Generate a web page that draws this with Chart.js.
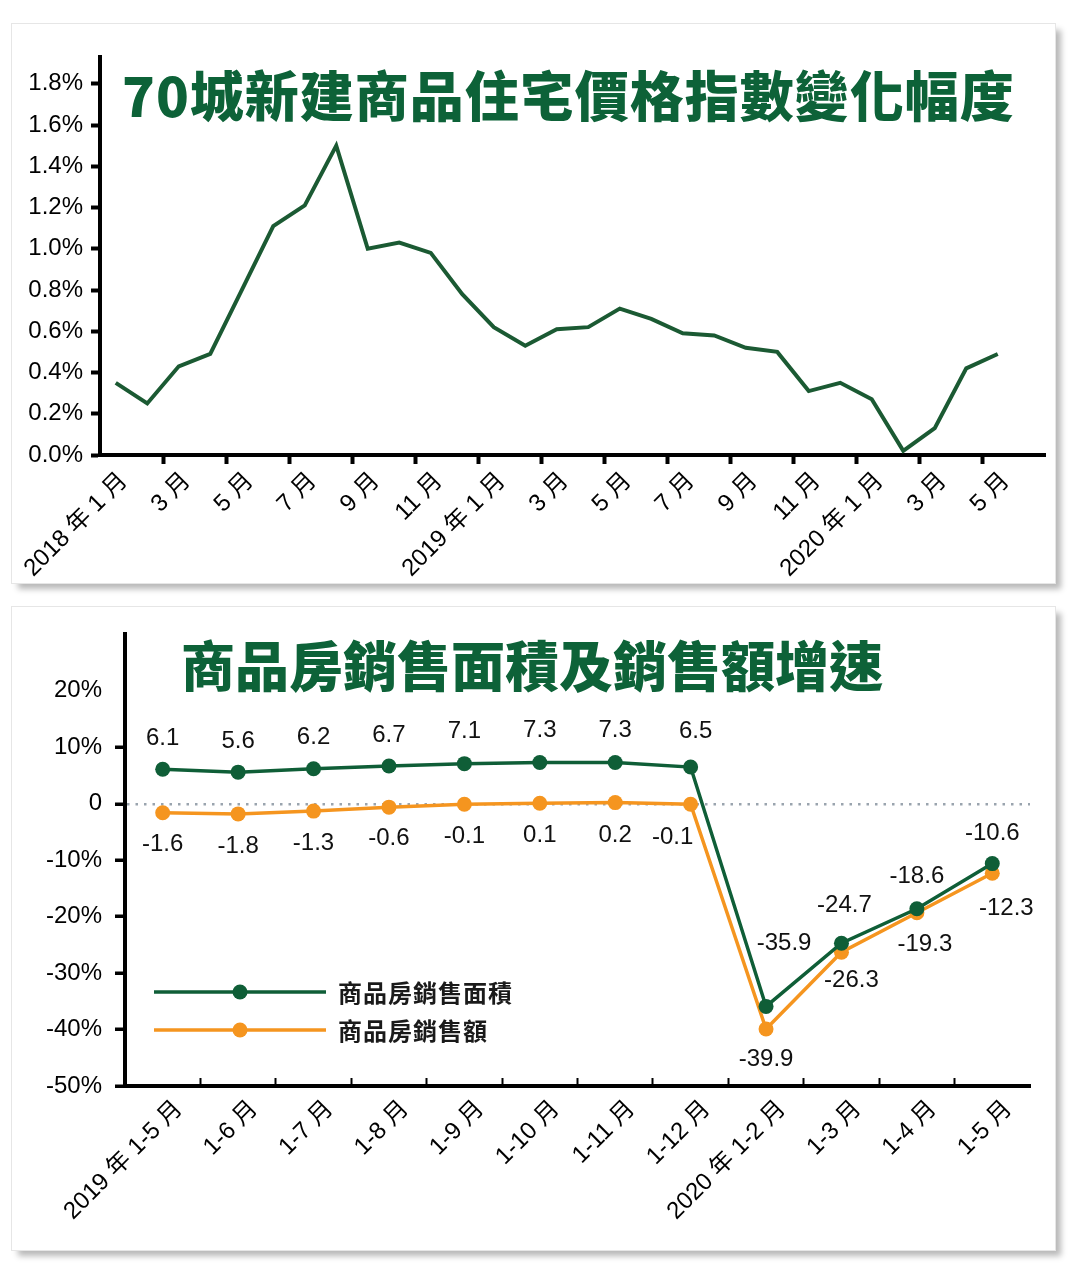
<!DOCTYPE html>
<html>
<head>
<meta charset="utf-8">
<script src="https://cdn.jsdelivr.net/npm/chart.js@4.4.0/dist/chart.umd.min.js"></script>
<style>
  body { margin: 0; background: #fff; width: 1080px; height: 1274px; position: relative; overflow: hidden; }
  .card { position: absolute; left: 12px; width: 1043px; background: #fff;
          box-shadow: 0 0 0 1px #e6e6e6, 6px 6px 6px rgba(0,0,0,0.28); }
  #card1 { top: 24px; height: 559px; }
  #card2 { top: 607px; height: 643px; }
  .card canvas { position: absolute; left: 0; top: 0; }
</style>
</head>
<body>
<div class="card" id="card1"><canvas id="priceChart" width="1043" height="559"></canvas></div>
<div class="card" id="card2"><canvas id="salesChart" width="1043" height="643"></canvas></div>

<script>
// ---- top chart: 70-city new home price index, month-on-month change (%)
const priceMonths = [
  '2018年1月', '2月', '3月', '4月', '5月', '6月', '7月', '8月', '9月', '10月', '11月', '12月',
  '2019年1月', '2月', '3月', '4月', '5月', '6月', '7月', '8月', '9月', '10月', '11月', '12月',
  '2020年1月', '2月', '3月', '4月', '5月', '6月'
];
const priceChange = [
  0.35, 0.25, 0.43, 0.49, 0.80, 1.11, 1.21, 1.50, 1.00, 1.03, 0.98, 0.78,
  0.62, 0.53, 0.61, 0.62, 0.71, 0.66, 0.59, 0.58, 0.52, 0.50, 0.31, 0.35,
  0.27, 0.02, 0.13, 0.42, 0.49, null
];
const priceTicks = [0, 0.2, 0.4, 0.6, 0.8, 1.0, 1.2, 1.4, 1.6, 1.8];

// ---- bottom chart: sales area / sales value growth (%)
const salesPeriods = ['2019年1-5月', '1-6月', '1-7月', '1-8月', '1-9月', '1-10月', '1-11月', '1-12月',
                      '2020年1-2月', '1-3月', '1-4月', '1-5月'];
const salesArea  = [6.1, 5.6, 6.2, 6.7, 7.1, 7.3, 7.3, 6.5, -35.9, -24.7, -18.6, -10.6];
const salesValue = [-1.6, -1.8, -1.3, -0.6, -0.1, 0.1, 0.2, -0.1, -39.9, -26.3, -19.3, -12.3];
const salesTicks = [-50, -40, -30, -20, -10, 0, 10, 20];

// where each value label sits relative to its point
const labelOffsets = [
  [[0,-31],[0,-31],[0,-31],[0,-31],[0,-32],[0,-32],[0,-32],[5,-36],[18,-63],[3,-38],[0,-32],[0,-30]],
  [[0,32],[0,32],[0,32],[0,31],[0,32],[0,32],[0,33],[-18,33],[0,30],[10,28],[8,32],[14,35]]
];

const GREEN = '#0f5e37';
const LINE_GREEN = '#1b5a33';
const ORANGE = '#f5951f';
const TICK_FONT = { family: "'Liberation Sans', 'Noto Sans CJK TC', sans-serif", size: 24 };

// Latin/CJK spacing as in the original axis labels
const spaced = s => s.replace(/(\d)([年月])/g, '$1 $2').replace(/年(\d)/g, '年 $1');

const cornerTitle = {
  id: 'cornerTitle',
  afterDraw(chart, args, opts) {
    const { ctx, chartArea } = chart;
    ctx.save();
    ctx.font = "900 54px 'Noto Sans CJK TC', sans-serif";
    ctx.letterSpacing = opts.spacing + 'px';
    ctx.fillStyle = '#0d6238';
    ctx.textBaseline = 'middle';
    ctx.fillText(opts.text, chartArea.left + opts.dx, chartArea.top + opts.dy);
    ctx.restore();
  }
};

const pointLabels = {
  id: 'pointLabels',
  afterDatasetsDraw(chart) {
    const ctx = chart.ctx;
    ctx.save();
    ctx.font = "24px 'Liberation Sans', sans-serif";
    ctx.fillStyle = '#111';
    ctx.textAlign = 'center';
    ctx.textBaseline = 'middle';
    chart.data.datasets.forEach((ds, di) => {
      chart.getDatasetMeta(di).data.forEach((pt, i) => {
        const off = labelOffsets[di][i];
        ctx.fillText(ds.data[i].toFixed(1), pt.x + off[0], pt.y + off[1]);
      });
    });
    ctx.restore();
  }
};

const insideLegend = {
  id: 'insideLegend',
  afterDraw(chart) {
    const { ctx, chartArea } = chart;
    const x0 = chartArea.left + 29, y0 = chartArea.bottom - 94;
    chart.data.datasets.forEach((ds, i) => {
      const y = y0 + i * 38;
      ctx.save();
      ctx.strokeStyle = ds.borderColor;
      ctx.lineWidth = 3.5;
      ctx.beginPath();
      ctx.moveTo(x0, y);
      ctx.lineTo(x0 + 172, y);
      ctx.stroke();
      ctx.fillStyle = ds.borderColor;
      ctx.beginPath();
      ctx.arc(x0 + 86, y, 7.5, 0, Math.PI * 2);
      ctx.fill();
      ctx.fillStyle = '#1a1a1a';
      ctx.font = "bold 24px 'Noto Sans CJK TC', sans-serif";
      ctx.letterSpacing = '1px';
      ctx.textBaseline = 'middle';
      ctx.fillText(ds.label, x0 + 184, y + 1);
      ctx.restore();
    });
  }
};

// top chart
new Chart(document.getElementById('priceChart'), {
  type: 'line',
  data: {
    labels: priceMonths,
    datasets: [{
      label: '70城新建商品住宅價格指數變化幅度',
      data: priceChange,
      borderColor: LINE_GREEN,
      borderWidth: 4,
      pointRadius: 0,
      fill: false,
      tension: 0
    }]
  },
  plugins: [cornerTitle],
  options: {
    responsive: false,
    animation: false,
    devicePixelRatio: 1,
    layout: { padding: { top: 33, right: 10, left: 0, bottom: 0 } },
    plugins: {
      legend: { display: false },
      tooltip: { enabled: false },
      cornerTitle: { text: '70城新建商品住宅價格指數變化幅度', dx: 22, dy: 39, spacing: 1 }
    },
    scales: {
      x: {
        offset: true,
        afterFit: s => { s.height = 128; },
        grid: {
          offset: true,
          drawOnChartArea: false,
          tickLength: 9,
          tickWidth: 4,
          tickColor: c => (c.tick && c.index > 0 && c.index % 2 === 0) ? '#000' : 'rgba(0,0,0,0)'
        },
        border: { color: '#000', width: 4 },
        ticks: {
          autoSkip: false,
          minRotation: 45,
          maxRotation: 45,
          padding: 3,
          labelOffset: 8,
          color: '#000',
          font: TICK_FONT,
          callback: (v, i) => i % 2 === 0 ? spaced(priceMonths[i]) : ''
        }
      },
      y: {
        min: 0,
        max: 1.93,
        afterFit: s => { s.width = 88; },
        afterBuildTicks: s => { s.ticks = priceTicks.map(v => ({ value: v })); },
        grid: { drawOnChartArea: false, tickLength: 9, tickWidth: 4, tickColor: '#000' },
        border: { color: '#000', width: 4 },
        ticks: {
          padding: 8,
          color: '#000',
          font: TICK_FONT,
          callback: v => v.toFixed(1) + '%'
        }
      }
    }
  }
});

// bottom chart
new Chart(document.getElementById('salesChart'), {
  type: 'line',
  data: {
    labels: salesPeriods,
    datasets: [{
      label: '商品房銷售面積',
      data: salesArea,
      borderColor: GREEN,
      backgroundColor: GREEN,
      borderWidth: 3.5,
      pointRadius: 7.5,
      pointBorderWidth: 0,
      pointBackgroundColor: GREEN,
      tension: 0
    }, {
      label: '商品房銷售額',
      data: salesValue,
      borderColor: ORANGE,
      backgroundColor: ORANGE,
      borderWidth: 3.5,
      pointRadius: 7.5,
      pointBorderWidth: 0,
      pointBackgroundColor: ORANGE,
      tension: 0
    }]
  },
  plugins: [cornerTitle, pointLabels, insideLegend],
  options: {
    responsive: false,
    animation: false,
    devicePixelRatio: 1,
    layout: { padding: { top: 19, right: 25, left: 0, bottom: 0 } },
    plugins: {
      legend: { display: false },
      tooltip: { enabled: false },
      cornerTitle: { text: '商品房銷售面積及銷售額增速', dx: 56, dy: 32, spacing: 0 }
    },
    scales: {
      x: {
        offset: true,
        afterFit: s => { s.height = 164; },
        grid: {
          offset: true,
          drawOnChartArea: false,
          tickLength: -8,
          tickWidth: 2,
          tickColor: c => c.tick ? '#000' : 'rgba(0,0,0,0)'
        },
        border: { color: '#000', width: 4 },
        ticks: {
          autoSkip: false,
          minRotation: 45,
          maxRotation: 45,
          padding: 17,
          labelOffset: 16,
          color: '#000',
          font: TICK_FONT,
          callback: (v, i) => spaced(salesPeriods[i])
        }
      },
      y: {
        min: -50,
        max: 30,
        afterFit: s => { s.width = 113; },
        afterBuildTicks: s => { s.ticks = salesTicks.map(v => ({ value: v })); },
        grid: {
          drawOnChartArea: true,
          lineWidth: 2.5,
          color: c => (c.tick && c.tick.value === 0) ? '#9aa4ae' : 'rgba(0,0,0,0)',
          tickLength: 10,
          tickWidth: 3.5,
          tickColor: c => (c.tick && c.tick.value === 20) ? 'rgba(0,0,0,0)' : '#000'
        },
        border: { color: '#000', width: 4, dash: [2.5, 6] },
        ticks: {
          padding: 13,
          color: '#000',
          font: TICK_FONT,
          callback: v => v === 0 ? '0' : v + '%'
        }
      }
    }
  }
});
</script>
</body>
</html>
